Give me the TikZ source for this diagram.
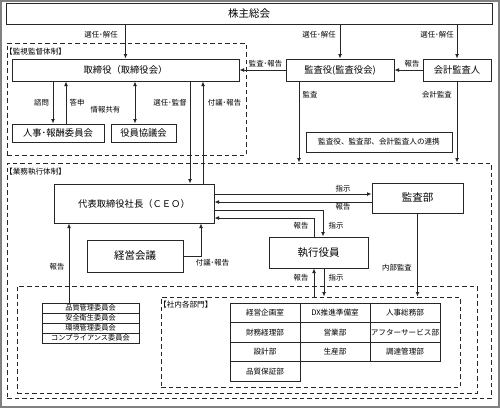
\documentclass[tikz,border=0pt]{standalone}
\usepackage{fontspec}
\setmainfont{Noto Sans CJK JP}
\usetikzlibrary{positioning, arrows.meta, calc}

\begin{document}
\begin{tikzpicture}[x=1pt, y=-1pt,
    box/.style={draw=black!85, line width=1pt, inner sep=0pt, align=center},
    frame/.style={draw=black!85, line width=1pt, dash pattern=on 4.5pt off 3pt, inner sep=0pt},
    arr/.style={draw=black!85, line width=1pt, -{Latex[length=4.5pt,width=4pt]}},
    darr/.style={draw=black!85, line width=1pt, {Latex[length=4.5pt,width=4pt]}-{Latex[length=4.5pt,width=4pt]}},
    tbig/.style={font=\fontsize{10.5}{12}\selectfont},
    tmid/.style={font=\fontsize{9.3}{11}\selectfont},
    tsmall/.style={font=\fontsize{7.6}{9}\selectfont},
    tlbl/.style={font=\fontsize{7.4}{9}\selectfont, inner sep=0.5pt}]

    \useasboundingbox (0,0) rectangle (500,408);

    % outer frame
    \draw[gray, line width=1.6pt] (0.8,0.8) rectangle (499.2,407.2);

    % dashed areas
    \node[frame, minimum width=239pt, minimum height=112pt] (kanshi) at (126.5,99) {};
    \node[frame, minimum width=484pt, minimum height=235pt] (gyomu) at (249,280.5) {};
    \node[frame, minimum width=460pt, minimum height=107pt] (bumon) at (247,339.5) {};
    \node[frame, minimum width=299pt, minimum height=90pt] (shanai) at (310.5,342) {};

    \node[tsmall, anchor=west, inner sep=0pt] (kanshiT) at (5,51.5) {【監視監督体制】};
    \node[tsmall, anchor=west, inner sep=0pt] (gyomuT) at (5,171.5) {【業務執行体制】};
    \node[tsmall, anchor=west, inner sep=0pt] (shanaiT) at (159,304.5) {【社内各部門】};

    % boxes
    \node[box, tbig, minimum width=486pt, minimum height=21pt] (soukai) at (249,13.5) {株主総会};
    \node[box, tmid, minimum width=227pt, minimum height=22pt] (torishimari) at (125.5,70) {取締役（取締役会）};
    \node[box, tmid, minimum width=108pt, minimum height=22pt] (kansayaku) at (340,70) {監査役(監査役会)};
    \node[box, tmid, minimum width=68pt, minimum height=22pt] (kaikei) at (457,70) {会計監査人};
    \node[box, tmid, minimum width=92pt, minimum height=18pt] (jinji) at (58,133) {人事･報酬委員会};
    \node[box, tmid, minimum width=65pt, minimum height=18pt] (yakuin) at (143.5,133) {役員協議会};
    \node[box, tsmall, minimum width=146pt, minimum height=20pt] (renkei) at (379,142) {監査役、監査部、会計監査人の連携};
    \node[box, tmid, minimum width=160pt, minimum height=39pt] (ceo) at (134,203.5) {代表取締役社長（ＣＥＯ）};
    \node[box, tbig, minimum width=91pt, minimum height=30pt] (kansabu) at (417.5,198) {監査部};
    \node[box, tbig, minimum width=99pt, minimum height=31pt] (shikko) at (318.5,252.5) {執行役員};
    \node[box, tbig, minimum width=96pt, minimum height=32pt] (keiei) at (135,256) {経営会議};

    % committees
    \foreach \i/\t in {1/品質管理委員会, 2/安全衛生委員会, 3/環境管理委員会, 4/コンプライアンス委員会}
    {
        \node[box, font=\fontsize{7.2}{8}\selectfont, minimum width=97pt, minimum height=10pt] (c\i) at (90.5,298+10*\i) {\t};
    }

    % departments
    \foreach \i/\col/\row/\t in {
        1/0/0/経営企画室, 2/1/0/DX推進準備室, 3/2/0/人事総務部,
        4/0/1/財務経理部, 5/1/1/営業部, 6/2/1/アフターサービス部,
        7/0/2/設計部, 8/1/2/生産部, 9/2/2/調達管理部,
        10/0/3/品質保証部}
    {
        \node[box, tsmall, minimum width=70pt, minimum height=19.5pt] (d\i) at (265+70*\col,312.75+19.5*\row) {\t};
    }

    % general meeting
    \draw[arr] (soukai.south -| torishimari.north) -- (torishimari.north);
    \draw[arr] (soukai.south -| kansayaku.north) -- (kansayaku.north);
    \draw[arr] (soukai.south -| kaikei.north) -- (kaikei.north);

    % audit
    \draw[arr] (kaikei.west) -- (kansayaku.east);
    \draw[arr] (kansayaku.west) -- (torishimari.east);
    \draw[arr] ([xshift=-41pt]kansayaku.south) -- ([xshift=-41pt]kansayaku.south |- gyomu.north);
    \draw[arr] (kaikei.south) -- (kaikei.south |- gyomu.north);

    % board
    \draw[arr] ([xshift=-5pt]jinji.north |- torishimari.south) -- ([xshift=-5pt]jinji.north);
    \draw[arr] ([xshift=8pt]jinji.north) -- ([xshift=8pt]jinji.north |- torishimari.south);
    \draw[darr] ([xshift=-8.5pt]yakuin.north) -- ([xshift=-8.5pt]yakuin.north |- torishimari.south);
    \draw[arr] ([xshift=56pt]ceo.north |- torishimari.south) -- ([xshift=56pt]ceo.north);
    \draw[arr] ([xshift=69pt]ceo.north) -- ([xshift=69pt]ceo.north |- torishimari.south);

    % execution
    \draw[arr] ([yshift=4pt]kansabu.west -| ceo.east) -- ([yshift=4pt]kansabu.west);
    \draw[arr] ([yshift=-4pt]kansabu.west) -- ([yshift=-4pt]kansabu.west -| ceo.east);
    \draw[arr] ([yshift=-6.5pt]ceo.east) -| ([xshift=4.5pt]shikko.north);
    \draw[arr] ([xshift=-4.5pt]shikko.north) |- ([yshift=-14.5pt]ceo.east);
    \draw[arr] ([xshift=-4.5pt]shikko.south |- shanai.north) -- ([xshift=-4.5pt]shikko.south);
    \draw[arr] ([xshift=5.5pt]shikko.south) -- ([xshift=5.5pt]shikko.south |- shanai.north);
    \draw[arr] (kansabu.south) -- (kansabu.south |- shanai.north);
    \draw[arr] (keiei.east) -| ([xshift=67pt]ceo.south);
    \draw[arr] ([xshift=-21.5pt]c1.north) -- ([xshift=-21.5pt]c1.north |- ceo.south);

    % connector labels
    \foreach \n/\x/\y/\t in {
        l1/101/35/選任･解任, l2/319/35/選任･解任, l3/437/35/選任･解任,
        l4/412/64/報告, l5/265.5/64/監査･報告, l6/310/95/監査, l7/437/95/会計監査,
        l8/41.5/103/諮問, l9/77/103/答申, l10/105.5/110/情報共有,
        l11/170/103/選任･監督, l12/224.5/103/付議･報告,
        l13/343/189/指示, l14/343/207/報告, l15/301/226/報告, l16/336/226/指示,
        l17/301/278/報告, l18/336/278/指示, l19/397/268/内部監査,
        l20/57/267/報告, l21/212.5/263/付議･報告}
    {
        \node[tlbl] (\n) at (\x,\y) {\t};
    }
\end{tikzpicture}
\end{document}
